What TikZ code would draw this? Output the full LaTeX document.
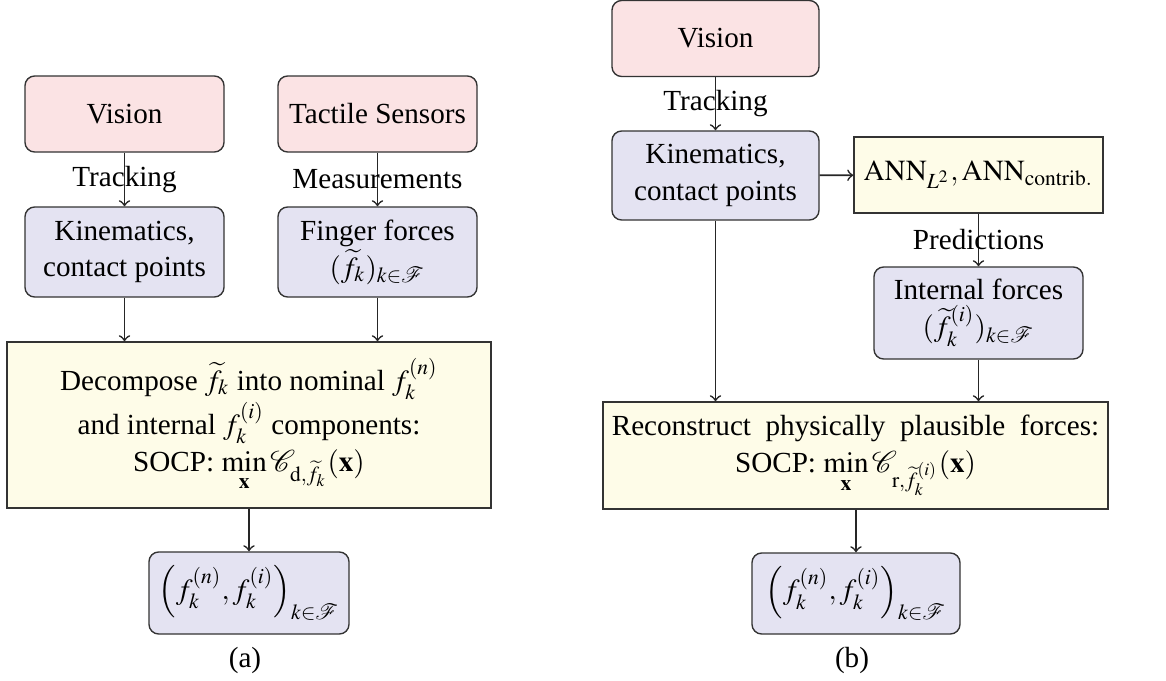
\documentclass[tikz,border=0pt]{standalone}
\usepackage{amsmath}
\usepackage{mathptmx}
\usepackage{mathrsfs}
\usepackage[no-math]{fontspec}
\setmainfont{Liberation Serif}
\definecolor{pinkfill}{HTML}{FBE3E4}
\definecolor{lavfill}{HTML}{E4E3F2}
\definecolor{yelfill}{HTML}{FEFCE8}
\definecolor{edge}{HTML}{333333}
\begin{document}
\begin{tikzpicture}[x=0.3636pt,y=-0.3636pt,
  every node/.style={font=\fontsize{10.6}{13.4}\selectfont},
  boxbase/.style={draw=edge,line width=0.5pt,align=center,inner sep=0pt},
  srcbox/.style={boxbase,fill=pinkfill,rounded corners=3.5pt},
  midbox/.style={boxbase,fill=lavfill,rounded corners=3.5pt},
  procbox/.style={boxbase,fill=yelfill},
  conn/.style={->,line width=0.6pt,draw=black!85},
  lbl/.style={inner sep=0pt}]
\useasboundingbox (0,0) rectangle (1166,680);
% ---------- (a) ----------
\node[srcbox,minimum width=199*0.3636pt,minimum height=76*0.3636pt] (va) at (124.5,114) {Vision};
\node[srcbox,minimum width=199*0.3636pt,minimum height=76*0.3636pt] (ts) at (377.5,114) {Tactile Sensors};
\node[midbox,minimum width=199*0.3636pt,minimum height=90*0.3636pt] (ka) at (124.5,252) {Kinematics,\\contact points};
\node[midbox,minimum width=199*0.3636pt,minimum height=90*0.3636pt] (ff) at (377.5,252) {Finger forces\\$(\widetilde{f}_k)_{k\in\mathscr{F}}$};
\node[procbox,minimum width=484*0.3636pt,minimum height=166*0.3636pt] (dec) at (249,425) {Decompose $\widetilde{f}_k$ into nominal $f_k^{(n)}$\\and internal $f_k^{(i)}$ components:\\SOCP: $\min\limits_{\mathbf{x}}\mathscr{C}_{\mathrm{d},\widetilde{f}_k}(\mathbf{x})$};
\node[midbox,minimum width=200*0.3636pt,minimum height=82*0.3636pt] (ra) at (249,593) {$\left(f_k^{(n)},f_k^{(i)}\right)_{k\in\mathscr{F}}$};
\node[lbl] (capa) at (245,660) {(a)};
\draw[conn] (va) -- node[lbl] {Tracking} (ka);
\draw[conn] (ts) -- node[lbl] {Measurements} (ff);
\draw[conn] (ka.south) -- (ka.south |- dec.north);
\draw[conn] (ff.south) -- (ff.south |- dec.north);
\draw[conn] (dec) -- (ra);
% ---------- (b) ----------
\node[srcbox,minimum width=207*0.3636pt,minimum height=76*0.3636pt] (vb) at (715.5,38.5) {Vision};
\node[midbox,minimum width=207*0.3636pt,minimum height=89*0.3636pt] (kb) at (715.5,175.5) {Kinematics,\\contact points};
\node[procbox,minimum width=249*0.3636pt,minimum height=76*0.3636pt] (ann) at (978.5,175) {$\mathrm{ANN}_{L^2},\mathrm{ANN}_{\mathrm{contrib.}}$};
\node[midbox,minimum width=209*0.3636pt,minimum height=92*0.3636pt] (inf) at (978.5,313) {Internal forces\\$(\widetilde{f}_k^{(i)})_{k\in\mathscr{F}}$};
\node[procbox,minimum width=505*0.3636pt,minimum height=107*0.3636pt] (rec) at (855.5,455.5) {\spaceskip=0.5em Reconstruct physically plausible forces:\\SOCP: $\min\limits_{\mathbf{x}}\mathscr{C}_{\mathrm{r},\widetilde{f}_k^{(i)}}(\mathbf{x})$};
\node[midbox,minimum width=208*0.3636pt,minimum height=81*0.3636pt] (rb) at (856,593.5) {$\left(f_k^{(n)},f_k^{(i)}\right)_{k\in\mathscr{F}}$};
\node[lbl] (capb) at (852,660) {(b)};
\draw[conn] (vb) -- node[lbl] {Tracking} (kb);
\draw[conn] (kb) -- (ann);
\draw[conn] (ann) -- node[lbl] {Predictions} (inf);
\draw[conn] (kb.south) -- (kb.south |- rec.north);
\draw[conn] (inf.south) -- (inf.south |- rec.north);
\draw[conn] (rec.south -| rb.north) -- (rb.north);
\end{tikzpicture}
\end{document}
